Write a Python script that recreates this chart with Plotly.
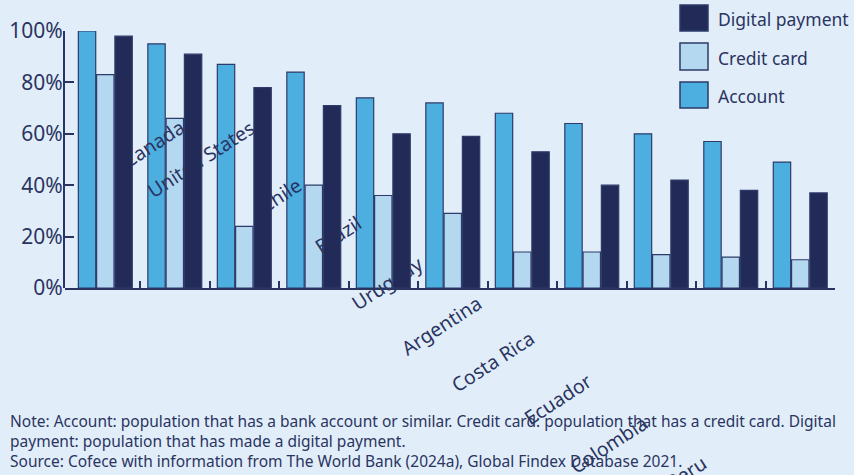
import plotly.graph_objects as go

# ---- data -------------------------------------------------------------
countries = ["Canada", "United States", "Chile", "Brazil", "Uruguay", "Argentina",
             "Costa Rica", "Ecuador", "Colombia", "Peru", "Mexico"]
account = [100, 95, 87, 84, 74, 72, 68, 64, 60, 57, 49]
credit_card = [83, 66, 24, 40, 36, 29, 14, 14, 13, 12, 11]
digital_payment = [98, 91, 78, 71, 60, 59, 53, 40, 42, 38, 37]

y_tick_values = [0, 20, 40, 60, 80, 100]
y_tick_labels = ["0%", "20%", "40%", "60%", "80%", "100%"]

note_lines = [
    "Note: Account: population that has a bank account or similar. Credit card: population that has a credit card. Digital",
    "payment: population that has made a digital payment.",
    "Source: Cofece with information from The World Bank (2024a), Global Findex Database 2021.",
]

# ---- styling / geometry -------------------------------------------------
FONT = "Noto Sans"
BG = "#E1EEF9"
INK = "#2B3461"
C_ACCOUNT = "#4DAEE0"
C_CREDIT = "#B4D8EF"
C_DIGITAL = "#222B57"
OUTLINE = "#2E3B6A"
CLEAR = "rgba(0,0,0,0)"

W, H = 854, 475
M_L, M_R, M_T, M_B = 65, 19, 31, 0
PLOT_W = W - M_L - M_R
PLOT_H = H - M_T - M_B
X_RANGE = [-0.58, 10.5]
ZERO_PX = 288                      # pixel row of the 0% baseline
Y_DOMAIN = [(H - M_B - ZERO_PX) / PLOT_H, 1]

# bar placement inside each category slot (fractions of one category)
BAR_W = 0.25
BAR_OFFSETS = {"Account": -0.388, "Credit card": -0.125, "Digital payment": 0.138}


def px_to_x(px):
    return X_RANGE[0] + (px - M_L) / PLOT_W * (X_RANGE[1] - X_RANGE[0])


def px_to_paper_x(px):
    return (px - M_L) / PLOT_W


def px_to_paper_y(py):
    return (H - M_B - py) / PLOT_H


# end point (pixels) of each slanted country label
label_ends_px = [(181, 124), (251, 125), (298, 182), (358, 220), (419, 261),
                 (478, 300), (531, 335), (588, 378), (644, 420), (703, 460),
                 (761, 500)]
LABEL_DY = 12
LABEL_ANGLE = -33

idx = list(range(len(countries)))

fig = go.Figure()

# lower subplot (x, y): account and credit card bars, beneath the labels
for name, vals, col in [("Account", account, C_ACCOUNT),
                        ("Credit card", credit_card, C_CREDIT)]:
    fig.add_trace(go.Bar(
        x=idx, y=vals, name=name, customdata=countries,
        width=BAR_W, offset=BAR_OFFSETS[name],
        marker=dict(color=col, line=dict(color=OUTLINE, width=1.2)),
        hovertemplate="%{customdata}<br>" + name + ": %{y}%<extra></extra>",
        xaxis="x", yaxis="y", showlegend=False,
    ))

# carrier traces so each label axis gets its own overlaying subplot on x2/y2
for i, (ex, _) in enumerate(label_ends_px):
    fig.add_trace(go.Scatter(x=[px_to_x(ex)], y=[None], mode="markers",
                             xaxis=f"x{i + 3}", yaxis="y2", showlegend=False,
                             hoverinfo="skip"))

# upper subplot (x2, y2): digital payment bars, above the labels
fig.add_trace(go.Bar(
    x=idx, y=digital_payment, name="Digital payment", customdata=countries,
    width=BAR_W, offset=BAR_OFFSETS["Digital payment"],
    marker=dict(color=C_DIGITAL, line=dict(color=OUTLINE, width=1.2)),
    hovertemplate="%{customdata}<br>Digital payment: %{y}%<extra></extra>",
    xaxis="x2", yaxis="y2", showlegend=False,
))

fig.update_layout(
    width=W, height=H,
    margin=dict(l=M_L, r=M_R, t=M_T, b=M_B, autoexpand=False),
    paper_bgcolor=BG, plot_bgcolor=CLEAR,
    barmode="overlay",
    font=dict(family=FONT, color=INK),
    showlegend=False,
    xaxis=dict(range=X_RANGE, showticklabels=False, ticks="",
               showline=False, showgrid=False, zeroline=False, fixedrange=True),
    yaxis=dict(domain=Y_DOMAIN, range=[0, 100],
               tickmode="array", tickvals=y_tick_values, ticktext=y_tick_labels,
               ticks="inside", ticklen=9, tickwidth=2, tickcolor=INK,
               ticklabelstandoff=-4,
               showline=True, linecolor=INK, linewidth=2,
               tickfont=dict(size=21, color=INK, family=FONT),
               showgrid=False, zeroline=False, fixedrange=True),
    xaxis2=dict(range=X_RANGE, anchor="y2", tickmode="array",
                tickvals=[i + 0.5 for i in idx], showticklabels=False,
                ticks="inside", ticklen=7, tickwidth=2, tickcolor=INK,
                showline=True, linecolor=INK, linewidth=2,
                showgrid=False, zeroline=False, fixedrange=True),
    yaxis2=dict(domain=Y_DOMAIN, range=[0, 100], anchor="x2",
                showticklabels=False, ticks="", showline=False,
                showgrid=False, zeroline=False, fixedrange=True),
)

# country labels: one overlaying axis per label, drawn beneath the upper bars
for i, (name, (ex, ey)) in enumerate(zip(countries, label_ends_px)):
    pos = min(1.0, max(0.0, px_to_paper_y(ey - LABEL_DY)))
    fig.update_layout(**{f"xaxis{i + 3}": dict(
        overlaying="x2", anchor="free", position=pos, range=X_RANGE,
        tickmode="array", tickvals=[px_to_x(ex)], ticktext=[name],
        tickangle=LABEL_ANGLE, ticks="", showline=False, showgrid=False,
        zeroline=False, layer="below traces", fixedrange=True,
        tickfont=dict(size=19.5, color=INK, family=FONT),
    )})

# legend swatches + labels
legend_items = [("Digital payment", C_DIGITAL, 5, 31),
                ("Credit card", C_CREDIT, 43, 70),
                ("Account", C_ACCOUNT, 82, 108)]
for label, col, top, bot in legend_items:
    fig.add_shape(type="rect", xref="paper", yref="paper",
                  x0=px_to_paper_x(680), x1=px_to_paper_x(708),
                  y0=px_to_paper_y(bot), y1=px_to_paper_y(top),
                  fillcolor=col, line=dict(color=OUTLINE, width=1.5))
    fig.add_annotation(xref="paper", yref="paper",
                       x=px_to_paper_x(716), y=px_to_paper_y((top + bot) / 2 + 1),
                       xanchor="left", yanchor="middle", showarrow=False,
                       text=label, font=dict(size=17.5, color=INK, family=FONT))

# footnote
fig.add_annotation(xref="paper", yref="paper",
                   x=px_to_paper_x(8), y=px_to_paper_y(408),
                   xanchor="left", yanchor="top", align="left", showarrow=False,
                   text="<br>".join(note_lines),
                   font=dict(size=15.5, color=INK, family=FONT))

fig.write_html("out.html")
